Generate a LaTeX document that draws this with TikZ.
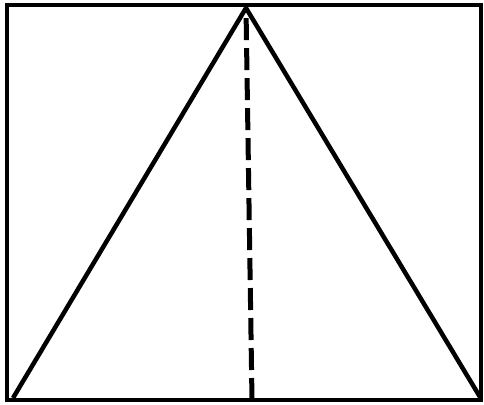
\documentclass[tikz,border=0pt]{standalone}
\begin{document}
\begin{tikzpicture}[x=1pt,y=-1pt,
  edge/.style={line width=4.5pt,line join=miter,black},
  frame/.style={line width=3.5pt,black},
  heightline/.style={line width=5pt,black,dash pattern=on 22pt off 8pt}]
\useasboundingbox (0,0) rectangle (484,404);
\draw[frame] (7,5) rectangle (481,400);
\coordinate (A) at (246,8);
\coordinate (B) at (13,398);
\coordinate (C) at (480,397);
\coordinate (H) at (252,400);
\draw[edge] (B) -- (A) -- (C);
\draw[heightline] (H) -- (A);
\end{tikzpicture}
\end{document}
